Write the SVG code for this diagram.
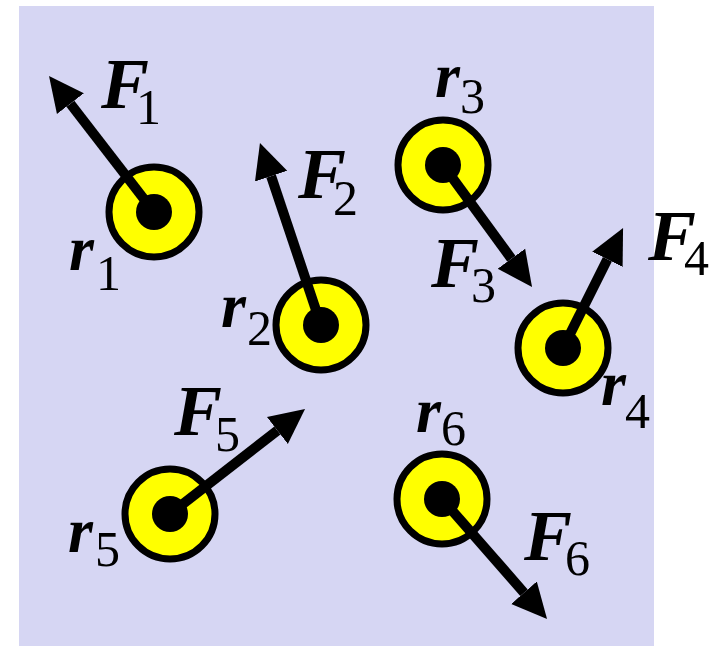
<svg xmlns="http://www.w3.org/2000/svg" width="710" height="646" viewBox="0 0 710 646">
<style>
.bg{fill:#d6d6f3}
.ring{fill:#ffff00;stroke:#000;stroke-width:7}
.dot{fill:#000}
.arr{stroke:#000;stroke-width:10;fill:none;marker-end:url(#ah)}
text{font-family:'Liberation Serif','Times New Roman',serif;fill:#000}
.v{font-weight:bold;font-style:italic;font-size:64px}
.f{font-weight:bold;font-style:italic;font-size:72px}
.s{font-size:50px}
</style>
<defs>
<marker id="ah" markerUnits="userSpaceOnUse" markerWidth="40" markerHeight="40" viewBox="0 -20 40 40" refX="0" refY="0" orient="auto">
<path d="M0,-17 L35,0 L0,17 Z" fill="#000"/>
</marker>
</defs>
<rect class="bg" x="19" y="6" width="635" height="640"/>
<g id="node1"><circle class="ring" cx="154" cy="212" r="45"/><circle class="dot" cx="154" cy="212" r="18"/>
<text><tspan class="v" x="69" y="270">r</tspan><tspan class="s" x="96" y="290">1</tspan></text></g>
<g id="node2"><circle class="ring" cx="321" cy="325" r="45"/><circle class="dot" cx="321" cy="325" r="18"/>
<text><tspan class="v" x="221" y="327">r</tspan><tspan class="s" x="247" y="345">2</tspan></text></g>
<g id="node3"><circle class="ring" cx="443" cy="165" r="45"/><circle class="dot" cx="443" cy="165" r="18"/>
<text><tspan class="v" x="435" y="97">r</tspan><tspan class="s" x="460" y="113">3</tspan></text></g>
<g id="node4"><circle class="ring" cx="563" cy="348" r="45"/><circle class="dot" cx="563" cy="348" r="18"/>
<text><tspan class="v" x="601" y="405">r</tspan><tspan class="s" x="625" y="428">4</tspan></text></g>
<g id="node5"><circle class="ring" cx="170" cy="514" r="45"/><circle class="dot" cx="170" cy="514" r="18"/>
<text><tspan class="v" x="68" y="552">r</tspan><tspan class="s" x="95" y="566">5</tspan></text></g>
<g id="node6"><circle class="ring" cx="442" cy="499" r="45"/><circle class="dot" cx="442" cy="499" r="18"/>
<text><tspan class="v" x="416" y="432">r</tspan><tspan class="s" x="441" y="445">6</tspan></text></g>
<g id="connectors">
<line class="arr" x1="154" y1="212" x2="70.4" y2="103.7"/>
<line class="arr" x1="321" y1="325" x2="271.1" y2="176.2"/>
<line class="arr" x1="443" y1="165" x2="511.4" y2="258.7"/>
<line class="arr" x1="563" y1="348" x2="607.4" y2="259.3"/>
<line class="arr" x1="170" y1="514" x2="277.4" y2="430.5"/>
<line class="arr" x1="442" y1="499" x2="524" y2="592.7"/>
<text><tspan class="f" x="101" y="108">F</tspan><tspan class="s" x="136" y="124">1</tspan></text>
<text><tspan class="f" x="298" y="198">F</tspan><tspan class="s" x="333" y="215">2</tspan></text>
<text><tspan class="f" x="431" y="287">F</tspan><tspan class="s" x="471" y="302">3</tspan></text>
<text><tspan class="f" x="648" y="260">F</tspan><tspan class="s" x="684" y="275">4</tspan></text>
<text><tspan class="f" x="174" y="435">F</tspan><tspan class="s" x="215" y="451">5</tspan></text>
<text><tspan class="f" x="524" y="560">F</tspan><tspan class="s" x="565" y="575">6</tspan></text>
</g>
</svg>
